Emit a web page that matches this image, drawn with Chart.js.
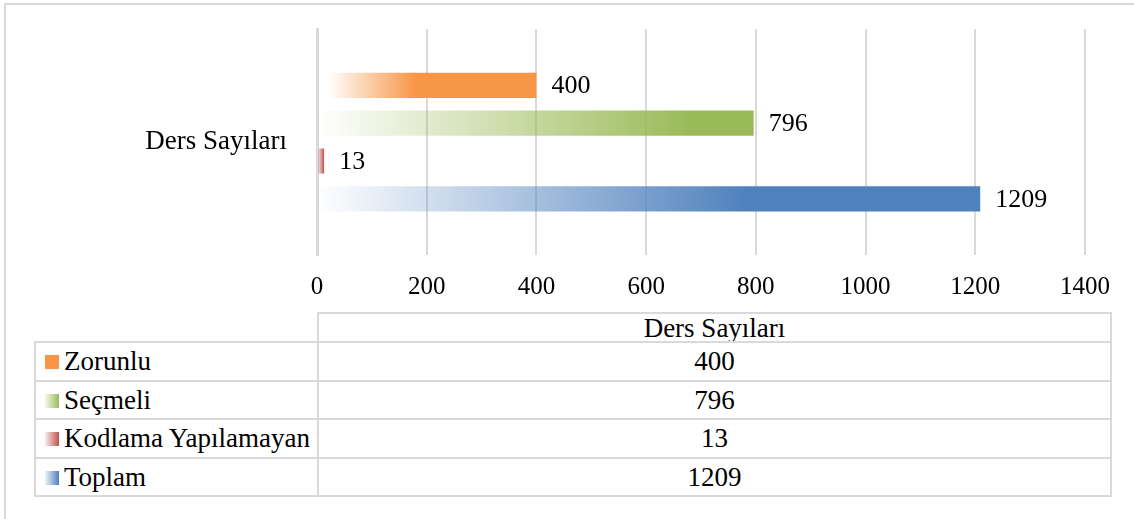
<!DOCTYPE html>
<html>
<head>
<meta charset="utf-8">
<script src="https://cdn.jsdelivr.net/npm/chart.js@4/dist/chart.umd.min.js"></script>
<style>
  body { margin: 0; background: #fff; font-family: "Liberation Serif", "Times New Roman", serif; overflow: hidden; }
  #frame { position: absolute; left: 4px; top: 3px; width: 1140px; height: 530px; border-top: 2px solid #d9d9d9; border-left: 2px solid #d9d9d9; }
  #chartBox { position: absolute; left: 0; top: -9px; width: 1134px; height: 309px; }
  #dataTable { position: absolute; left: 34px; top: 312px; border-collapse: collapse; table-layout: fixed; width: 1078px; font-size: 27px; color: #000; }
  #dataTable td { border: 2px solid #d9d9d9; padding: 0; white-space: nowrap; overflow: hidden; line-height: 30px; }
  #dataTable td.name { height: 36.5px; padding-left: 9px; text-align: left; }
  #dataTable td.val { text-align: center; }
  #dataTable tr.head td { height: 27px; line-height: 26px; }
  #dataTable td.blank { border-top: none; border-left: none; }
  .key { display: inline-block; width: 14px; height: 14px; margin-right: 5px; vertical-align: 1px; }
</style>
</head>
<body>
<div id="frame"></div>
<div id="chartBox"><canvas id="chart"></canvas></div>
<table id="dataTable"><colgroup><col style="width:283px"><col></colgroup><tbody id="rows"></tbody></table>
<script>
// data
const categories = ['Ders Sayıları'];
const seriesNames = ['Zorunlu', 'Seçmeli', 'Kodlama Yapılamayan', 'Toplam'];
const zorunlu = [400];
const secmeli = [796];
const kodlama = [13];
const toplam = [1209];
const xTicks = [0, 200, 400, 600, 800, 1000, 1200, 1400];

const seriesColors = ['247,150,70', '155,187,89', '192,80,77', '79,129,189'];
// where the gradient becomes fully solid (fraction of bar length)
const solidAt = [0.45, 0.85, 1, 0.65];
const fadeStart = [0.05, 0, 0, 0];

function barFill(i) {
    return function(ctx) {
        const chart = ctx.chart;
        const x = chart.scales.x;
        const rgb = seriesColors[i];
        if (!chart.chartArea || !x) return 'rgb(' + rgb + ')';
        const v = ctx.dataset.data[ctx.dataIndex];
        const x0 = x.getPixelForValue(0);
        const x1 = x.getPixelForValue(v);
        if (x1 - x0 < 1) return 'rgb(' + rgb + ')';
        const g = chart.ctx.createLinearGradient(x0, 0, x1, 0);
        g.addColorStop(0, 'rgba(' + rgb + ',0)');
        g.addColorStop(fadeStart[i], 'rgba(' + rgb + ',0)');
        g.addColorStop(solidAt[i], 'rgba(' + rgb + ',1)');
        g.addColorStop(1, 'rgba(' + rgb + ',1)');
        return g;
    };
}

const allSeries = [zorunlu, secmeli, kodlama, toplam];

const valueLabels = {
    id: 'valueLabels',
    afterDatasetsDraw(chart) {
        const c = chart.ctx;
        c.save();
        c.font = '26px "Liberation Serif", serif';
        c.fillStyle = '#000';
        c.textAlign = 'left';
        c.textBaseline = 'middle';
        chart.data.datasets.forEach((ds, i) => {
            chart.getDatasetMeta(i).data.forEach((bar, j) => {
                c.fillText(String(ds.data[j]), bar.x + 15, bar.y + 1);
            });
        });
        c.restore();
    }
};

Chart.defaults.font.family = '"Liberation Serif", serif';
Chart.defaults.color = '#000';

new Chart(document.getElementById('chart'), {
    type: 'bar',
    data: {
        labels: categories,
        datasets: allSeries.map((d, i) => ({
            label: seriesNames[i],
            data: d,
            backgroundColor: barFill(i),
            borderWidth: 0,
            categoryPercentage: 0.67,
            barPercentage: 0.667
        }))
    },
    options: {
        indexAxis: 'y',
        responsive: true,
        maintainAspectRatio: false,
        animation: false,
        layout: { padding: { top: 26, right: 49, left: 0, bottom: 0 } },
        scales: {
            x: {
                min: 0,
                max: 1400,
                afterBuildTicks: axis => { axis.ticks = xTicks.map(v => ({ value: v })); },
                ticks: { font: { size: 25 }, padding: 17, color: '#000', callback: v => String(v) },
                grid: { color: '#d9d9d9', lineWidth: 2, drawTicks: false },
                border: { display: false },
                afterFit: axis => { axis.height = 45; }
            },
            y: {
                ticks: { font: { size: 27 }, padding: 22, color: '#000' },
                grid: { display: false },
                border: { display: true, color: '#d9d9d9', width: 3 },
                afterFit: axis => { axis.width = 317; }
            }
        },
        plugins: {
            legend: { display: false },
            tooltip: { enabled: false }
        }
    },
    plugins: [valueLabels]
});

// data table under the chart
const rows = document.getElementById('rows');
let html = '<tr class="head"><td class="name blank"></td><td class="val">' + categories[0] + '</td></tr>';
seriesNames.forEach((name, i) => {
    const rgb = seriesColors[i];
    const key = i === 0
        ? 'background: rgb(' + rgb + ')'
        : 'background: linear-gradient(to right, rgba(' + rgb + ',0.1), rgb(' + rgb + '))';
    html += '<tr><td class="name"><span class="key" style="' + key + '"></span>' + name +
        '</td><td class="val">' + allSeries[i][0] + '</td></tr>';
});
rows.innerHTML = html;
</script>
</body>
</html>
